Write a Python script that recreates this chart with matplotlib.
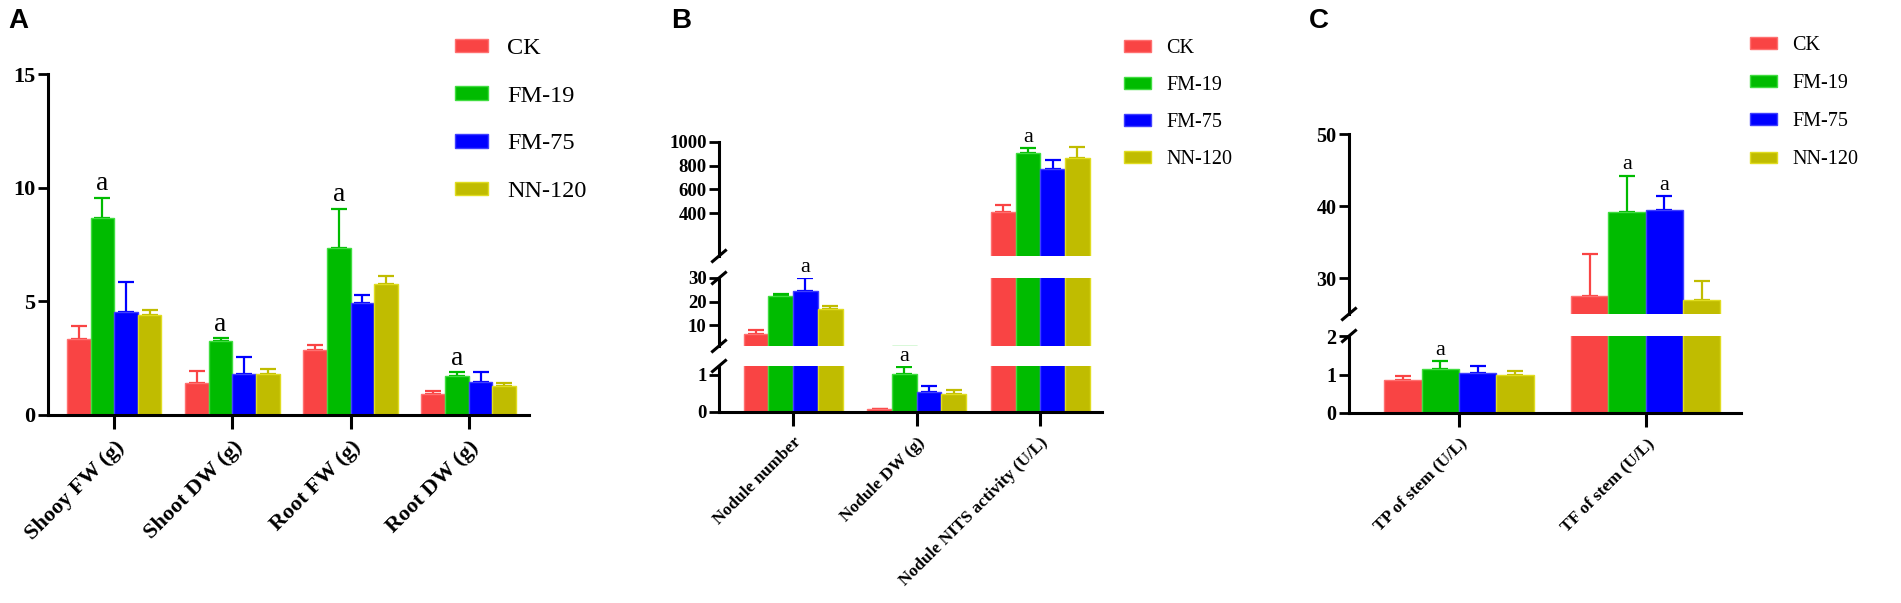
import matplotlib
matplotlib.use('Agg')
import matplotlib.pyplot as plt
import numpy as np

plt.rcParams['font.family'] = ['Liberation Serif', 'DejaVu Serif']

# ---- data ----
series = ['CK', 'FM-19', 'FM-75', 'NN-120']
colors = ['#F94444', '#00BB00', '#0000FF', '#C0BC00']
edges = ['#FF7070', '#40DD40', '#4040FF', '#E0DC20']

cats_a = ['Shooy FW (g)', 'Shoot DW (g)', 'Root FW (g)', 'Root DW (g)']
a_ck = [3.34, 1.40, 2.85, 0.93]
a_ck_err = [0.59, 0.54, 0.25, 0.13]
a_fm19 = [8.68, 3.24, 7.33, 1.70]
a_fm19_err = [0.88, 0.13, 1.75, 0.19]
a_fm75 = [4.52, 1.82, 4.92, 1.47]
a_fm75_err = [1.35, 0.71, 0.34, 0.40]
a_nn120 = [4.42, 1.82, 5.78, 1.26]
a_nn120_err = [0.22, 0.20, 0.35, 0.16]
a_sig = [['', '', '', ''], ['a', 'a', 'a', 'a'], ['', '', '', ''], ['', '', '', '']]

cats_b = ['Nodule number', 'Nodule DW (g)', 'Nodule NITS activity (U/L)']
b_ck = [6.4, 0.07, 413]
b_ck_err = [1.6, 0.02, 58]
b_fm19 = [22.2, 1.03, 910]
b_fm19_err = [1.1, 0.17, 38]
b_fm75 = [24.6, 0.55, 774]
b_fm75_err = [5.2, 0.16, 74]
b_nn120 = [16.8, 0.49, 865]
b_nn120_err = [1.5, 0.10, 93]
b_sig = [['', '', ''], ['', 'a', 'a'], ['a', '', ''], ['', '', '']]

cats_c = ['TP of stem (U/L)', 'TF of stem (U/L)']
c_ck = [0.87, 27.46]
c_ck_err = [0.09, 5.9]
c_fm19 = [1.15, 39.15]
c_fm19_err = [0.20, 5.05]
c_fm75 = [1.05, 39.5]
c_fm75_err = [0.16, 1.9]
c_nn120 = [0.98, 26.9]
c_nn120_err = [0.10, 2.7]
c_sig = [['', ''], ['a', 'a'], ['', 'a'], ['', '']]

W, H = 1901, 603
fig = plt.figure(figsize=(W / 100, H / 100), dpi=100)


def add_ax(left, right, top, bottom):
    '''
    Adds an axes given pixel edges (measured from the top-left).
    '''
    ax = fig.add_axes([left / W, 1 - bottom / H, (right - left) / W, (bottom - top) / H])
    ax.size_px = (right - left, bottom - top)
    return ax


def break_mark(ax, y0):
    w, h = ax.size_px
    dx, dy = 6.5 / w, 5.5 / h
    ax.plot([-dx, dx], [y0 - dy, y0 + dy], transform=ax.transAxes,
            color='black', lw=2.2, clip_on=False)


def draw_panel(segs, cats, vals, errs, sigs, xlim, tick_fs, cat_fs, a_fs):
    '''
    segs: list of (axes, ylim, yticks) from top to bottom.
    '''
    x = np.arange(len(cats))
    width = 0.2
    for k, (ax, ylim, yticks) in enumerate(segs):
        for j in range(4):
            xs = x + (j - 1.5) * width
            v = np.array(vals[j])
            e = np.array(errs[j])
            ax.bar(xs, v, width, color=colors[j], edgecolor=edges[j], linewidth=1, zorder=2)
            # only the error bars that actually reach into this segment
            keep = (v + e > ylim[0]) & (v < ylim[1])
            if keep.any():
                ax.errorbar(xs[keep], v[keep], yerr=[np.zeros(keep.sum()), e[keep]], fmt='none',
                            ecolor=colors[j], elinewidth=1.6, capsize=6, capthick=1.6, zorder=1)
            for i in range(len(cats)):
                top = v[i] + e[i]
                if sigs[j][i] and ylim[0] < top <= ylim[1] * 1.02:
                    ax.annotate(sigs[j][i], (xs[i], top), xytext=(0, 1),
                                textcoords='offset points', ha='center', va='bottom',
                                fontsize=a_fs, annotation_clip=False)
        ax.set_xlim(xlim)
        ax.set_ylim(ylim)
        ax.set_yticks(yticks)
        ax.spines['top'].set_visible(False)
        ax.spines['right'].set_visible(False)
        ax.spines['left'].set_linewidth(2.2)
        ax.tick_params(axis='y', length=7, width=2, labelsize=tick_fs, pad=2)
        for t in ax.get_yticklabels():
            t.set_fontweight('bold')
        ax.patch.set_visible(False)
        last = k == len(segs) - 1
        if last:
            ax.spines['bottom'].set_linewidth(2.2)
            ax.set_xticks(x)
            ax.set_xticklabels(cats, rotation=45, ha='right', va='top',
                               rotation_mode='anchor', fontsize=cat_fs, fontweight='bold')
            ax.tick_params(axis='x', length=10, width=2.2, pad=6)
        else:
            ax.spines['bottom'].set_visible(False)
            ax.set_xticks([])
        if len(segs) > 1:
            if k > 0:
                break_mark(ax, 1)
            if not last:
                break_mark(ax, 0)
    return segs[-1][0]


def add_legend(x0, y0, fs, hl, hh, ls, tp):
    handles = [plt.Rectangle((0, 0), 1, 1, facecolor=colors[j], edgecolor=edges[j], lw=1)
               for j in range(4)]
    fig.legend(handles, series, loc='upper left', bbox_to_anchor=(x0 / W, 1 - y0 / H),
               frameon=False, fontsize=fs, handlelength=hl, handleheight=hh,
               labelspacing=ls, handletextpad=tp, borderpad=0, borderaxespad=0)


# ---- panel A ----
ax_a = add_ax(48, 529, 74, 415)
draw_panel([(ax_a, (0, 15), [0, 5, 10, 15])], cats_a,
           [a_ck, a_fm19, a_fm75, a_nn120], [a_ck_err, a_fm19_err, a_fm75_err, a_nn120_err],
           a_sig, (-0.56, 3.51), 16, 16, 20)
add_legend(455, 38, 17.5, 1.35, 0.47, 1.1, 0.8)

# ---- panel B ----
b_top = add_ax(719, 1102, 142, 256)
b_mid = add_ax(719, 1102, 278, 346)
b_bot = add_ax(719, 1102, 366, 412)
draw_panel([(b_top, (38, 1000), [400, 600, 800, 1000]),
            (b_mid, (1.2, 30), [10, 20, 30]),
            (b_bot, (0, 1.24), [0, 1])], cats_b,
           [b_ck, b_fm19, b_fm75, b_nn120], [b_ck_err, b_fm19_err, b_fm75_err, b_nn120_err],
           b_sig, (-0.6, 2.5), 13.5, 12.5, 16)
add_legend(1124, 39, 14.5, 1.35, 0.5, 0.9, 0.75)

# ---- panel C ----
c_top = add_ax(1349, 1741, 134, 314)
c_bot = add_ax(1349, 1741, 336, 413)
draw_panel([(c_top, (25, 50), [30, 40, 50]),
            (c_bot, (0, 2), [0, 1, 2])], cats_c,
           [c_ck, c_fm19, c_fm75, c_nn120], [c_ck_err, c_fm19_err, c_fm75_err, c_nn120_err],
           c_sig, (-0.59, 1.51), 14.5, 12.5, 16)
add_legend(1750, 36, 14.5, 1.35, 0.5, 0.95, 0.75)

# panel letters
for lx, letter in [(8, 'A'), (671, 'B'), (1309, 'C')]:
    fig.text(lx / W, 1 - 21 / H, letter, fontsize=20, fontweight='bold',
             family='Liberation Sans', va='center', ha='left')

plt.savefig('out.png', dpi=100)
